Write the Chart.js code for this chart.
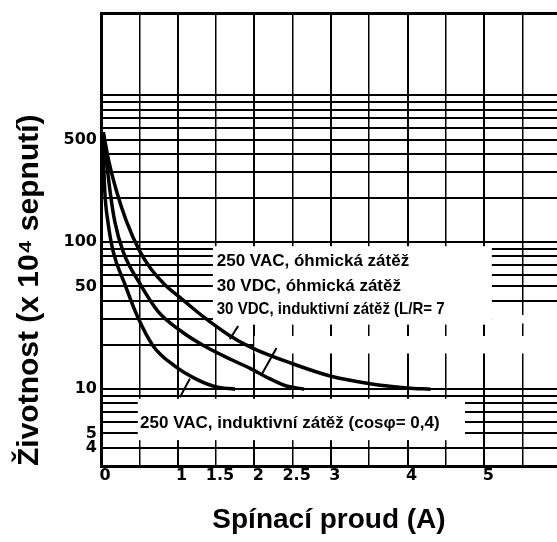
<!DOCTYPE html>
<html lang="cs">
<head>
<meta charset="UTF-8">
<title>Životnost kontaktů</title>
<script src="https://cdn.jsdelivr.net/npm/chart.js"></script>
<style>
  body { margin: 0; background: #fff; overflow: hidden; }
</style>
</head>
<body>
<canvas id="lifeChart" width="557" height="542"></canvas>
<script>
// proud v A, životnost v 10^4 sepnutí
const ohmX = [0.03, 0.1, 0.2, 0.33, 0.5, 0.65, 0.83, 1.06, 1.36, 1.66, 1.97, 2.5, 2.99, 3.51, 3.99, 4.3];
const ohmY = [560, 360, 225, 140, 88, 66, 51.6, 40.9, 30.4, 23.5, 19.1, 14.9, 12.3, 10.9, 10.2, 10];

const dcIndX = [0.03, 0.12, 0.18, 0.29, 0.51, 0.74, 1.06, 1.36, 1.71, 1.94, 2.2, 2.4, 2.65];
const dcIndY = [558, 219, 138, 86, 52, 34, 24.5, 19.5, 15.8, 13.9, 11.8, 10.6, 10];

const acIndX = [0.02, 0.05, 0.09, 0.16, 0.31, 0.47, 0.68, 0.96, 1.23, 1.49, 1.75];
const acIndY = [558, 219, 138, 86, 52, 31.7, 19.7, 14.4, 11.8, 10.4, 10];

// krátké odkazové čárky od popisků ke křivkám
const leader1X = [1.79, 1.68], leader1Y = [26.9, 21.9];
const leader2X = [2.29, 2.10], leader2Y = [19.1, 12.7];
const leader3X = [1.16, 1.03], leader3Y = [11.8, 8.8];

const xLabels = [0, 1, 1.5, 2, 2.5, 3, 4, 5];
const yGrid = [3, 4, 5, 6, 7, 8, 9, 10, 20, 30, 40, 50, 60, 70, 80, 90,
               100, 200, 300, 400, 500, 600, 700, 800, 900, 1000, 3600];
const yLabels = [4, 5, 10, 50, 100, 500];

const curveLabels = [
    { text: '250 VAC, óhmická zátěž', x: 1.51, y: 73.8 },
    { text: '30 VDC, óhmická zátěž', x: 1.51, y: 50 },
    { text: '30 VDC, induktivní zátěž (L/R= 7', x: 1.51, y: 35, maxWidth: 228 },
    { text: '250 VAC, induktivní zátěž (cosφ= 0,4)', x: 0.51, y: 5.85 }
];
// bílá pole pod popisky (zakrývají mřížku)
const whiteBoxes = [
    { x0: 1.46, x1: 5.10, y0: 94, y1: 27.5 },
    { x0: 0.48, x1: 4.75, y0: 8.6, y1: 4.5 },
    { x0: 2.0, x1: 5.95, y0: 23, y1: 17.5 },
    { x0: 5.10, x1: 5.95, y0: 32, y1: 28 }
];

function pts(xs, ys) {
    return xs.map((v, i) => ({ x: v, y: ys[i] }));
}

function curve(label, xs, ys) {
    return { label: label, data: pts(xs, ys), borderColor: '#000', borderWidth: 3.5,
             pointRadius: 0, cubicInterpolationMode: 'monotone', fill: false };
}

function leader(xs, ys) {
    return { label: '', data: pts(xs, ys), borderColor: '#000', borderWidth: 2,
             pointRadius: 0, fill: false };
}

const annotations = {
    id: 'annotations',
    beforeDatasetsDraw(chart) {
        const { ctx, scales: { x, y } } = chart;
        ctx.save();
        ctx.fillStyle = '#fff';
        whiteBoxes.forEach(b => {
            const x0 = x.getPixelForValue(b.x0), x1 = x.getPixelForValue(b.x1);
            const y0 = y.getPixelForValue(b.y0), y1 = y.getPixelForValue(b.y1);
            ctx.fillRect(Math.min(x0, x1), Math.min(y0, y1), Math.abs(x1 - x0), Math.abs(y1 - y0));
        });
        ctx.restore();
    },
    afterDatasetsDraw(chart) {
        const { ctx, scales: { x, y } } = chart;
        ctx.save();
        ctx.fillStyle = '#000';
        ctx.font = 'bold 17px "Liberation Sans", Arial, sans-serif';
        ctx.textBaseline = 'middle';
        ctx.textAlign = 'left';
        curveLabels.forEach(l => {
            const px = x.getPixelForValue(l.x), py = y.getPixelForValue(l.y);
            if (l.maxWidth) ctx.fillText(l.text, px, py, l.maxWidth);
            else ctx.fillText(l.text, px, py);
        });
        ctx.restore();
    }
};

const tickFont = { family: '"DejaVu Sans", sans-serif', size: 16, weight: 'bold' };

new Chart(document.getElementById('lifeChart'), {
    type: 'line',
    data: {
        datasets: [
            curve('250 VAC / 30 VDC, óhmická zátěž', ohmX, ohmY),
            curve('30 VDC, induktivní zátěž', dcIndX, dcIndY),
            curve('250 VAC, induktivní zátěž', acIndX, acIndY),
            leader(leader1X, leader1Y),
            leader(leader2X, leader2Y),
            leader(leader3X, leader3Y)
        ]
    },
    options: {
        responsive: false,
        animation: false,
        layout: { padding: { top: 10, right: 0, bottom: 0, left: 0 } },
        plugins: { legend: { display: false }, tooltip: { enabled: false } },
        scales: {
            x: {
                type: 'linear',
                min: 0,
                max: 5.95,
                afterFit: s => { s.height = 76; },
                ticks: {
                    stepSize: 0.5,
                    includeBounds: false,
                    autoSkip: false,
                    maxRotation: 0,
                    padding: 0,
                    labelOffset: 4,
                    color: '#000',
                    font: tickFont,
                    callback: v => xLabels.includes(v) ? String(v) : ''
                },
                grid: {
                    color: '#000',
                    drawTicks: false,
                    lineWidth: c => Number.isInteger(c.tick && c.tick.value) ? 2 : 1.5
                },
                border: { color: '#000', width: 3 },
                title: {
                    display: true,
                    text: 'Spínací proud (A)',
                    color: '#000',
                    font: { family: '"Liberation Sans", Arial, sans-serif', size: 28, weight: 'bold' },
                    padding: { top: 0, bottom: 5 }
                }
            },
            y: {
                type: 'logarithmic',
                min: 3,
                max: 3600,
                afterFit: s => { s.width = 101; },
                afterBuildTicks: s => { s.ticks = yGrid.map(v => ({ value: v })); },
                ticks: {
                    padding: 4,
                    autoSkip: false,
                    color: '#000',
                    font: tickFont,
                    callback: v => yLabels.includes(v) ? String(v) : ''
                },
                grid: {
                    color: '#000',
                    drawTicks: false,
                    lineWidth: c => (c.tick && c.tick.value === 3600) ? 3 : 2
                },
                border: { color: '#000', width: 3 },
                title: {
                    display: true,
                    text: 'Životnost (x 10⁴ sepnutí)',
                    align: 'start',
                    color: '#000',
                    font: { family: '"Liberation Sans", Arial, sans-serif', size: 30, weight: 'bold' },
                    padding: { top: 12, bottom: 0 }
                }
            }
        }
    },
    plugins: [annotations]
});
</script>
</body>
</html>
